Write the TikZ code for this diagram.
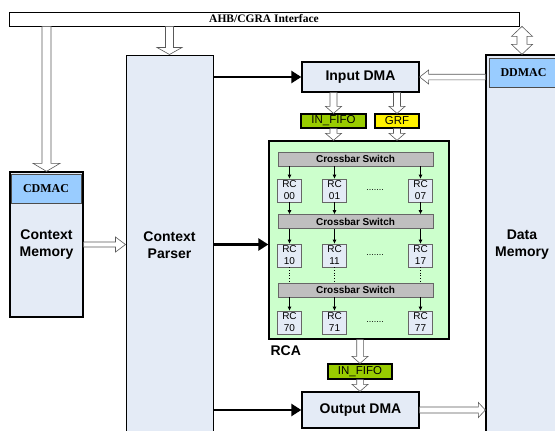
\documentclass[tikz,border=0pt]{standalone}
\usepackage{fontspec}
\setmainfont{Liberation Serif}
\setsansfont{Liberation Sans}
\usetikzlibrary{arrows.meta}
\usetikzlibrary{calc}
\usetikzlibrary{positioning}
\definecolor{boxfill}{RGB}{228,235,246}
\definecolor{dmacblue}{RGB}{153,204,255}
\definecolor{rcagreen}{RGB}{204,255,204}
\definecolor{fifogreen}{RGB}{153,204,0}
\definecolor{xbargray}{RGB}{191,191,191}

% hollow block arrow: from, to, shaft half width, head half width, head length
\newcommand{\hollowarrow}[5]{%
  \path let \p1=(#1), \p2=(#2), \n1={atan2(\y2-\y1,\x2-\x1)}, \n2={veclen(\x2-\x1,\y2-\y1)} in
    [hollow, shift={(\p1)}, rotate=\n1]
    (0,#3) -- (\n2-#5,#3) -- (\n2-#5,#4) -- (\n2,0) -- (\n2-#5,-#4) -- (\n2-#5,-#3) -- (0,-#3) -- cycle;
}
% same with a head at both ends
\newcommand{\hollowdarrow}[5]{%
  \path let \p1=(#1), \p2=(#2), \n1={atan2(\y2-\y1,\x2-\x1)}, \n2={veclen(\x2-\x1,\y2-\y1)} in
    [hollow, shift={(\p1)}, rotate=\n1]
    (0,0) -- (#5,#4) -- (#5,#3) -- (\n2-#5,#3) -- (\n2-#5,#4) -- (\n2,0)
    -- (\n2-#5,-#4) -- (\n2-#5,-#3) -- (#5,-#3) -- (#5,-#4) -- cycle;
}

\begin{document}
\begin{tikzpicture}[x=1pt, y=-1pt,
    box/.style={draw, line width=1.3pt, fill=boxfill, inner sep=0pt, align=center,
      font=\sffamily\bfseries\fontsize{14}{17}\selectfont},
    dmac/.style={draw=black!70, line width=0.6pt, fill=dmacblue, inner sep=0pt,
      font=\bfseries\fontsize{12}{14}\selectfont},
    fifo/.style={draw, line width=1.2pt, inner sep=0pt, font=\sffamily\fontsize{11.5}{12}\selectfont},
    xbar/.style={draw=black!60, line width=0.6pt, fill=xbargray, inner sep=0pt,
      minimum width=155pt, minimum height=14pt, font=\sffamily\bfseries\fontsize{10}{11}\selectfont},
    rc/.style={draw=black!60, line width=0.6pt, fill=boxfill, inner sep=0pt, align=center,
      minimum width=24pt, minimum height=23pt, font=\sffamily\fontsize{10}{12}\selectfont},
    bus/.style={-{Triangle[length=10pt, width=12pt]}, line width=2.4pt},
    link/.style={-{Latex[length=4pt, width=4pt]}, line width=0.6pt},
    hollow/.style={draw=black!65, line width=0.6pt, fill=white, line join=miter},
  ]
  \useasboundingbox (0,0) rectangle (555,431);

  % interface bar
  \node[draw, line width=0.8pt, fill=white, minimum width=510pt, minimum height=14pt, inner sep=0pt,
    font=\bfseries\fontsize{11.5}{12}\selectfont] (bar) at (264,19) {AHB/CGRA Interface};

  % memories and parser
  \node[box, minimum width=73pt, minimum height=145pt] (cmem) at (46.5,244.5) {Context\\Memory};
  \node[dmac, minimum width=70pt, minimum height=29pt] (cdmac) at (46,188.5) {CDMAC};
  \node[box, line width=1pt, minimum width=87pt, minimum height=380pt] (parser) at (169.5,245) {Context\\Parser};
  \node[box, minimum width=72pt, minimum height=380pt] (datamem) at (522,245) {Data\\Memory};
  \node[dmac, minimum width=69pt, minimum height=29pt] (ddmac) at (523.5,72.5) {DDMAC};

  % DMAs and fifos
  \node[box, minimum width=117pt, minimum height=30pt] (indma) at (360.5,77) {Input DMA};
  \node[fifo, fill=fifogreen, minimum width=65pt, minimum height=14pt] (fifoin) at (333.5,121) {IN\_FIFO};
  \node[fifo, fill=yellow, minimum width=44pt, minimum height=14pt] (grf) at (397,121) {GRF};
  \node[fifo, fill=fifogreen, minimum width=64pt, minimum height=15pt] (fifoout) at (360,371.5) {IN\_FIFO};
  \node[box, minimum width=117pt, minimum height=36pt] (outdma) at (360.5,410) {Output DMA};

  % RCA
  \node[draw, line width=1.3pt, fill=rcagreen, minimum width=180pt, minimum height=198pt] (rca) at (359,240) {};
  \node[anchor=north west, inner sep=0pt, font=\sffamily\bfseries\fontsize{14}{16}\selectfont]
    (rcalabel) at ([xshift=2pt, yshift=-6pt]rca.south west) {RCA};
  \node[xbar] (xbar1) at (355.5,159) {Crossbar Switch};
  \node[xbar] (xbar2) at (355.5,221.5) {Crossbar Switch};
  \node[xbar] (xbar3) at (355.5,290) {Crossbar Switch};
  \foreach \row/\y in {0/190.5, 1/255.5, 7/322.5} {
    \foreach \col/\x in {0/289.5, 1/334.5, 7/420.5}
      \node[rc] (rc\row\col) at (\x,\y) {RC\\\row\col};
    \node[inner sep=0pt, font=\sffamily\fontsize{9}{10}\selectfont] (dots\row) at (375,\y) {.......};
  }
  \foreach \col in {0,1,7} {
    \draw[link] (xbar1.south -| rc0\col) -- (rc0\col.north);
    \draw[link] (rc0\col.south) -- (xbar2.north -| rc0\col);
    \draw[link] (xbar2.south -| rc1\col) -- (rc1\col.north);
    \draw[dotted, line width=0.7pt] (rc1\col.south) -- (xbar3.north -| rc1\col);
    \draw[link] (xbar3.south -| rc7\col) -- (rc7\col.north);
  }

  % control buses
  \draw[bus] (parser.east |- indma.west) -- (indma.west);
  \draw[bus] (parser.east |- cmem.east) -- (rca.west |- cmem.east);
  \draw[bus] (parser.east |- outdma.west) -- (outdma.west);

  % data paths
  \hollowarrow{bar.south -| cmem.north}{cmem.north}{4.5}{13.5}{8}
  \hollowarrow{bar.south -| parser.north}{parser.north}{4}{12.5}{7}
  \hollowdarrow{bar.south -| datamem.north}{datamem.north}{5}{10.5}{10}
  \hollowarrow{cmem.east}{parser.west |- cmem.east}{2.5}{7.5}{10}
  \hollowarrow{datamem.west |- indma.east}{indma.east}{2.8}{7}{9}
  \hollowarrow{outdma.east}{datamem.west |- outdma.east}{3}{7.5}{7}
  \hollowarrow{indma.south -| fifoin}{fifoin.north}{3.5}{8}{7}
  \hollowarrow{indma.south -| grf}{grf.north}{3.5}{8}{7}
  \hollowarrow{fifoin.south}{rca.north -| fifoin}{3.5}{8}{7}
  \hollowarrow{grf.south}{rca.north -| grf}{3.5}{8}{7}
  \hollowarrow{rca.south -| fifoout}{fifoout.north}{3.3}{8}{7}
  \hollowarrow{fifoout.south}{outdma.north -| fifoout}{3.3}{8}{7}
\end{tikzpicture}
\end{document}
